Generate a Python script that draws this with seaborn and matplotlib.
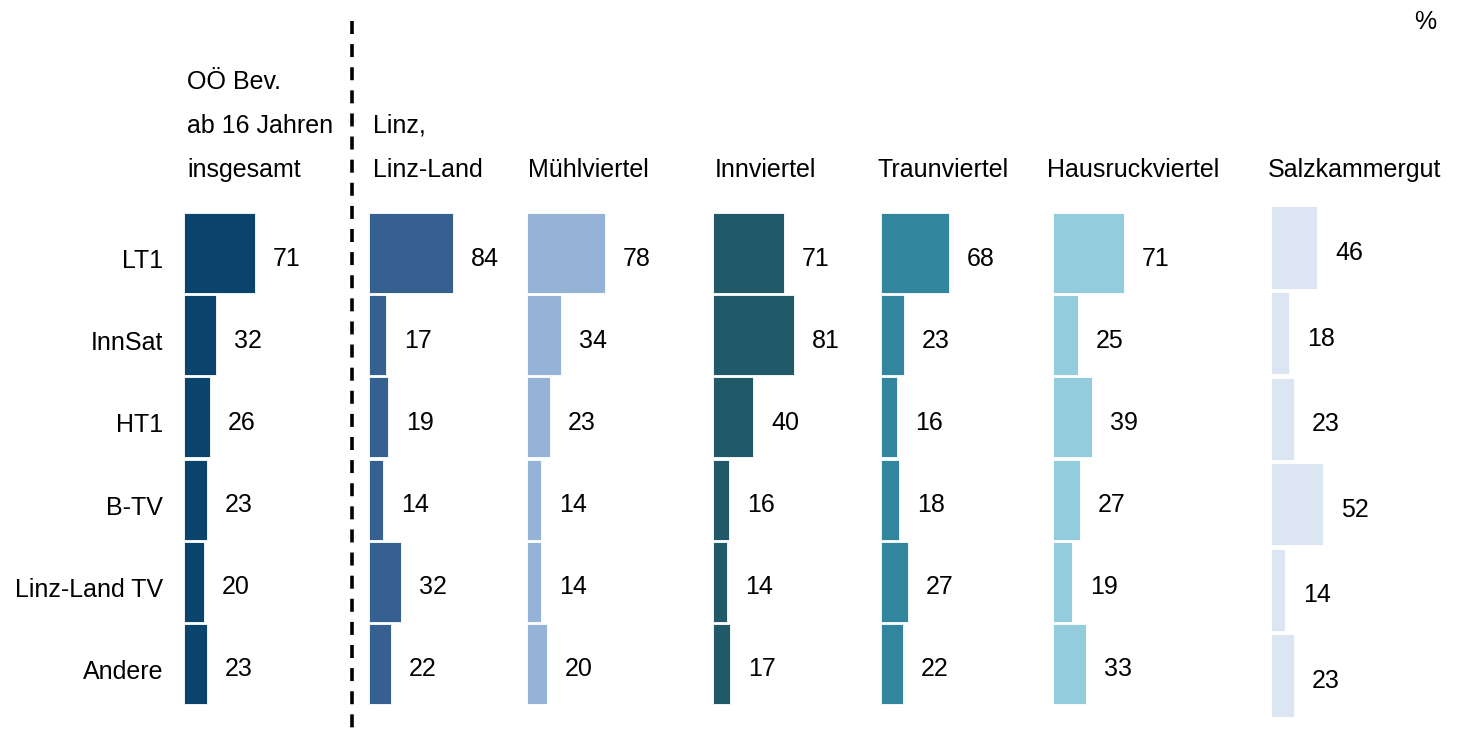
import matplotlib
matplotlib.use("Agg")
import matplotlib.pyplot as plt
from matplotlib.lines import Line2D
from matplotlib.transforms import ScaledTranslation
import seaborn as sns
import pandas as pd

sns.set_theme(style="white")
plt.rcParams['font.family'] = ['Liberation Sans', 'DejaVu Sans']

categories = ["LT1", "InnSat", "HT1", "B-TV", "Linz-Land TV", "Andere"]
headers = [
    ["OÖ Bev.", "ab 16 Jahren", "insgesamt"],
    ["Linz,", "Linz-Land"],
    ["Mühlviertel"],
    ["Innviertel"],
    ["Traunviertel"],
    ["Hausruckviertel"],
    ["Salzkammergut"],
]
ooe_total = [71, 32, 26, 23, 20, 23]
linz = [84, 17, 19, 14, 32, 22]
muehlviertel = [78, 34, 23, 14, 14, 20]
innviertel = [71, 81, 40, 16, 14, 17]
traunviertel = [68, 23, 16, 18, 27, 22]
hausruckviertel = [71, 25, 39, 27, 19, 33]
salzkammergut = [46, 18, 23, 52, 14, 23]
series = [ooe_total, linz, muehlviertel, innviertel, traunviertel, hausruckviertel, salzkammergut]

colors = ["#0A446C", "#36608F", "#95B3D7", "#215968", "#31859C", "#93CDDD", "#DCE6F2"]
lefts = [184, 369, 527, 713, 881, 1053, 1271]
header_x = [187, 373, 528, 715, 877, 1047, 1268]

W, H = 1465, 744
fig = plt.figure(figsize=(W / 100, H / 100), dpi=100)
down = ScaledTranslation(0, -5.5 / 100, fig.dpi_scale_trans)

FS = 18
header_y = [82, 126, 170]

for i, (vals, col, lx) in enumerate(zip(series, colors, lefts)):
    if i < 6:
        top, pitch, bw = 211.9, 82.2, 0.973
    else:
        top, pitch, bw = 204.7, 85.6, 0.958
    height = 6 * pitch
    xr = 110
    ax = fig.add_axes([lx / W, 1 - (top + height) / H, xr / W, height / H])
    df = pd.DataFrame({"cat": categories, "val": vals})
    sns.barplot(data=df, x="val", y="cat", orient="h", color=col, saturation=1,
                width=bw, ax=ax, edgecolor="white", linewidth=0.6)
    ax.set_xlim(0, xr)
    ax.set_ylim(5.5, -0.5)
    for j, v in enumerate(vals):
        ax.text(v + 18, j, str(v), ha="left", va="center", fontsize=FS, color="black",
                transform=ax.transData + down)
    for s in ax.spines.values():
        s.set_visible(False)
    ax.set_xticks([])
    ax.set_xlabel("")
    ax.set_ylabel("")
    ax.patch.set_alpha(0)
    if i == 0:
        ax.tick_params(axis="y", length=0, pad=15, labelsize=FS)
        for t in ax.get_yticklabels():
            t.set_color("black")
            t.set_transform(t.get_transform() + down)
    else:
        ax.set_yticks([])
    lines = headers[i]
    n = len(lines)
    for k, line in enumerate(lines):
        y = header_y[3 - n + k]
        fig.text(header_x[i] / W, 1 - y / H, line, ha="left", va="center",
                 fontsize=FS, color="black")

fig.add_artist(Line2D([352 / W, 352 / W], [1 - 21 / H, 1 - 736 / H],
                      transform=fig.transFigure, color="black", linewidth=2.6,
                      linestyle=(0, (3.6, 2.8))))
fig.text(1425 / W, 1 - 22 / H, "%", ha="center", va="center", fontsize=FS, color="black")

fig.savefig("out.png", dpi=100, facecolor="white")
